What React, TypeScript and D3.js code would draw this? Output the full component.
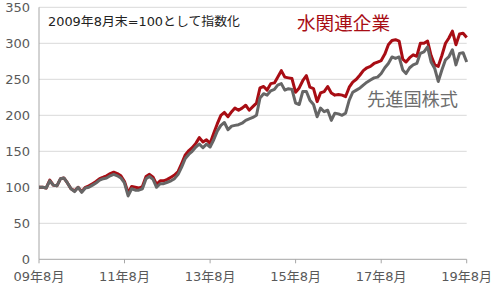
import React from "react";
import * as d3 from "d3";

const startYear = 2009;
const startMonth = 7; // August (0-based)
const waterValues = [
  100, 100, 99, 110, 103, 102, 112, 113, 106, 98, 95, 100, 94, 100, 102, 105, 108, 112, 114, 116,
  119, 121, 119, 116, 108, 92, 101, 100, 99, 101, 115, 118, 114, 104, 109, 109, 111, 114, 117, 122,
  133, 145, 151, 155, 161, 169, 163, 166, 161, 175, 188, 200, 204, 198, 205, 210, 207, 210, 214, 207,
  212, 217, 238, 240, 235, 244, 245, 253, 262, 253, 252, 251, 232, 238, 248, 255, 239, 237, 219, 231,
  233, 240, 231, 228, 229, 228, 226, 239, 246, 250, 256, 262, 266, 268, 272, 274, 276, 285, 298, 304,
  305, 303, 278, 274, 280, 284, 282, 300, 300, 303, 283, 270, 268, 283, 300, 307, 317, 298, 313, 314,
  308,
];
const worldValues = [
  100, 100, 99, 109, 103, 102, 112, 113, 106, 98, 94, 100, 93, 99, 100, 103, 106, 110, 112, 113,
  116, 118, 116, 113, 106, 88, 98, 96, 96, 98, 112, 115, 111, 100, 105, 105, 107, 109, 112, 118,
  128, 140, 146, 150, 156, 160, 155, 160, 156, 166, 178, 186, 190, 180, 185, 186, 187, 189, 193, 195,
  197, 200, 224, 230, 228, 234, 236, 242, 244, 235, 237, 236, 217, 215, 233, 233, 221, 215, 198, 210,
  205, 207, 193, 203, 202, 200, 203, 221, 232, 235, 238, 242, 246, 249, 252, 253, 258, 266, 272, 281,
  279, 281, 263, 258, 266, 270, 272, 286, 288, 295, 274, 265, 247, 263, 277, 281, 291, 270, 286, 287,
  274,
];
const yTicks = [0, 50, 100, 150, 200, 250, 300, 350];
const xTickYears = [2009, 2011, 2013, 2015, 2017, 2019];
const noteText = "2009年8月末=100として指数化";
const waterLabel = "水関連企業";
const worldLabel = "先進国株式";

const FONT = "'DejaVu Sans', 'Noto Sans CJK JP', sans-serif";

export default function App() {
  const dates = waterValues.map((_, i) => new Date(startYear, startMonth + i, 1));
  const x = d3
    .scaleTime()
    .domain([dates[0], dates[dates.length - 1]])
    .range([39, 466.7]);
  const y = d3.scaleLinear().domain([0, 350]).range([259.3, 7.3]);

  const line = d3
    .line<number>()
    .x((_, i) => x(dates[i]))
    .y((d) => y(d))
    .curve(d3.curveLinear);

  const xTicks = xTickYears.map((yr) => new Date(yr, 7, 1));

  return (
    <svg
      width={500}
      height={285}
      style={{ position: "absolute", left: 0, top: 0, background: "#fff" }}
    >
      {yTicks.map((t) =>
        t === 0 ? null : (
          <line
            key={"g" + t}
            x1={39}
            x2={466.7}
            y1={y(t)}
            y2={y(t)}
            stroke="#d9d9d9"
            strokeWidth={1}
          />
        )
      )}
      <line x1={39} x2={39} y1={y(350)} y2={y(0)} stroke="#a6a6a6" strokeWidth={1} />
      <line x1={39} x2={466.7} y1={y(0)} y2={y(0)} stroke="#a6a6a6" strokeWidth={1} />
      {xTicks.map((d, i) => (
        <line
          key={"xt" + i}
          x1={x(d)}
          x2={x(d)}
          y1={y(0)}
          y2={y(0) + 4}
          stroke="#a6a6a6"
          strokeWidth={1}
        />
      ))}
      {yTicks.map((t) => (
        <text
          key={"yl" + t}
          x={30}
          y={y(t)}
          textAnchor="end"
          dominantBaseline="central"
          fontFamily={FONT}
          fontSize={13}
          fill="#595959"
        >
          {t}
        </text>
      ))}
      {xTicks.map((d, i) => (
        <text
          key={"xl" + i}
          x={x(d)}
          y={281}
          textAnchor="middle"
          fontFamily={FONT}
          fontSize={13}
          fill="#595959"
        >
          {String(d.getFullYear() % 100).padStart(2, "0") + "年8月"}
        </text>
      ))}
      <path d={line(waterValues) || ""} fill="none" stroke="#a80d14" strokeWidth={3} strokeLinejoin="round" />
      <path d={line(worldValues) || ""} fill="none" stroke="#666666" strokeWidth={3} strokeLinejoin="round" />
      <text
        x={48}
        y={26}
        fontFamily={FONT}
        fontSize={12.5}
        fill="#222"
        textLength={192}
        lengthAdjust="spacingAndGlyphs"
      >
        {noteText}
      </text>
      <text x={297} y={30} fontFamily={FONT} fontSize={18} fill="#a80d14" textLength={93} lengthAdjust="spacingAndGlyphs">
        {waterLabel}
      </text>
      <text x={367} y={106} fontFamily={FONT} fontSize={18} fill="#6d6d6d" textLength={91} lengthAdjust="spacingAndGlyphs">
        {worldLabel}
      </text>
    </svg>
  );
}
